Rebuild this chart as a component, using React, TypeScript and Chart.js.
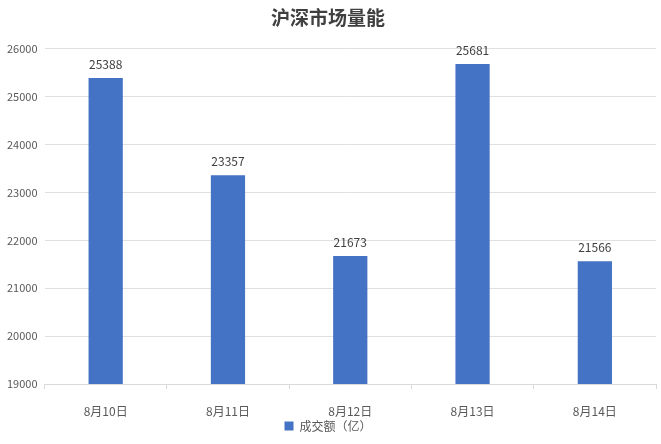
import React, { useEffect, useRef } from "react";
import { Chart, registerables } from "chart.js";

Chart.register(...registerables);

const categories = ["8月10日", "8月11日", "8月12日", "8月13日", "8月14日"];
const volumes = [25388, 23357, 21673, 25681, 21566];
const seriesName = "成交额（亿）";
const titleText = "沪深市场量能";
const yMin = 19000;
const yMax = 26000;
const yStep = 1000;

const FONT = "'Noto Sans CJK SC', 'Noto Sans', sans-serif";

const labelPlugin = {
  id: "barLabels",
  afterDatasetsDraw(chart: any) {
    const ctx = chart.ctx;
    const meta = chart.getDatasetMeta(0);
    ctx.save();
    ctx.font = `12px ${FONT}`;
    ctx.fillStyle = "#404040";
    ctx.textAlign = "center";
    ctx.textBaseline = "bottom";
    meta.data.forEach((el: any, i: number) => {
      ctx.fillText(String(chart.data.datasets[0].data[i]), el.x, el.y - 8);
    });
    ctx.restore();
  },
};

export default function App() {
  const ref = useRef<HTMLCanvasElement | null>(null);
  useEffect(() => {
    document.body.style.margin = "0";
    const chart = new Chart(ref.current as HTMLCanvasElement, {
      type: "bar",
      data: {
        labels: categories,
        datasets: [
          {
            label: seriesName,
            data: volumes,
            backgroundColor: "#4472C4",
            barPercentage: 0.28,
            categoryPercentage: 1,
          },
        ],
      },
      options: {
        animation: false,
        responsive: false,
        maintainAspectRatio: false,
        layout: { padding: { left: 0, right: 5, top: 0, bottom: 2 } },
        plugins: {
          title: {
            display: true,
            text: titleText,
            color: "#404040",
            font: { family: FONT, size: 19, weight: "bold" },
            padding: { top: 6, bottom: 20 },
          },
          legend: {
            display: true,
            position: "bottom",
            labels: {
              boxWidth: 9,
              boxHeight: 9,
              color: "#595959",
              font: { family: FONT, size: 12 },
              padding: 2,
            },
          },
          tooltip: { enabled: false },
        },
        scales: {
          x: {
            afterFit: (scale: any) => {
              scale.height = 34;
            },
            grid: {
              display: true,
              offset: true,
              drawOnChartArea: false,
              drawTicks: true,
              tickLength: 5,
              color: "#d9d9d9",
            },
            border: { display: true, color: "#d9d9d9" },
            ticks: {
              color: "#595959",
              font: { family: FONT, size: 12 },
              padding: 15,
            },
          },
          y: {
            min: yMin,
            max: yMax,
            ticks: {
              stepSize: yStep,
              color: "#595959",
              font: { family: FONT, size: 11 },
              padding: 7,
              callback: (v: any) => String(v),
            },
            grid: { color: "#e0e0e0", drawTicks: false },
            border: { display: false },
          },
        },
      },
      plugins: [labelPlugin],
    });
    return () => chart.destroy();
  }, []);
  return (
    <div style={{ width: 661, height: 444, background: "#fff" }}>
      <canvas ref={ref} width={661} height={444} style={{ width: 661, height: 444 }} />
    </div>
  );
}
